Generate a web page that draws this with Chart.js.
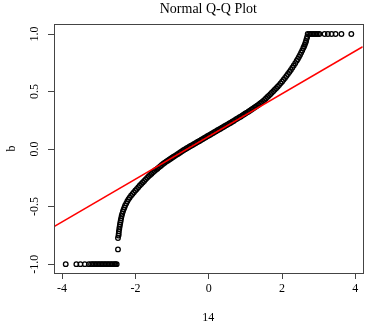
<!DOCTYPE html>
<html lang="en">
<head>
<meta charset="UTF-8">
<title>Normal Q-Q Plot</title>
<script src="https://cdn.jsdelivr.net/npm/chart.js"></script>
<style>
  body { margin: 0; background: #fff; }
  #wrap { width: 368px; height: 325px; }
</style>
</head>
<body>
<div id="wrap"><canvas id="qq"></canvas></div>
<script>
// theoretical quantiles (x) and sorted sample values (y)
const theoretical = [
  -3.90, -3.61, -3.50, -3.38, -3.27,
  -3.21, -3.17, -3.13, -3.09, -3.05, -3.01, -2.97, -2.93, -2.89, -2.85,
  -2.81, -2.77, -2.73, -2.69, -2.65, -2.61, -2.57, -2.54, -2.51,
  -2.475, -2.475,
  -2.46, -2.455, -2.45, -2.44, -2.43, -2.42, -2.41, -2.40, -2.39, -2.375,
  -2.36, -2.34, -2.32, -2.30, -2.28, -2.25, -2.22, -2.19, -2.16, -2.12,
  -2.08, -2.04, -2.00, -1.96, -1.92, -1.88, -1.84, -1.80, -1.76, -1.72,
  -1.68, -1.64, -1.60, -1.56, -1.52, -1.48, -1.44, -1.40, -1.36, -1.32,
  -1.28, -1.24,
  -1.20, -1.16, -1.12, -1.08, -1.04, -1.00, -0.96, -0.92, -0.88, -0.84,
  -0.80, -0.76, -0.72, -0.68, -0.64, -0.60, -0.56, -0.52, -0.48, -0.44,
  -0.40, -0.36, -0.32, -0.28, -0.24, -0.20, -0.16, -0.12, -0.08, -0.04,
  0.00, 0.04, 0.08, 0.12, 0.16, 0.20, 0.24, 0.28, 0.32, 0.36,
  0.40, 0.44, 0.48, 0.52, 0.56, 0.60, 0.64, 0.68, 0.72, 0.76,
  0.80, 0.84, 0.88, 0.92, 0.96, 1.00, 1.04, 1.08, 1.12, 1.16, 1.20,
  1.24, 1.28, 1.32, 1.36, 1.40, 1.44, 1.48, 1.52, 1.56, 1.60,
  1.64, 1.68, 1.72, 1.76, 1.80, 1.84, 1.88, 1.92, 1.96, 2.00,
  2.04, 2.08, 2.12, 2.16, 2.20, 2.24, 2.28, 2.32, 2.36, 2.40,
  2.43, 2.46, 2.49, 2.52, 2.55, 2.58, 2.60, 2.62, 2.64, 2.655, 2.67, 2.685,
  2.70, 2.74, 2.78, 2.82, 2.86, 2.90, 2.94, 2.98, 3.02,
  3.16, 3.25, 3.35, 3.46, 3.62, 3.89
];
const sample = [
  -1, -1, -1, -1, -1,
  -1, -1, -1, -1, -1, -1, -1, -1, -1, -1,
  -1, -1, -1, -1, -1, -1, -1, -1, -1,
  -0.872, -0.773,
  -0.752, -0.735, -0.715, -0.695, -0.675, -0.656, -0.638, -0.620, -0.602, -0.582,
  -0.563, -0.543, -0.524, -0.507, -0.490, -0.472, -0.454, -0.437, -0.422, -0.406,
  -0.390, -0.375, -0.360, -0.346, -0.331, -0.317, -0.304, -0.290, -0.277, -0.263,
  -0.250, -0.237, -0.225, -0.214, -0.202, -0.191, -0.180, -0.170, -0.159, -0.149,
  -0.139, -0.128,
  -0.118, -0.109, -0.101, -0.092, -0.084, -0.076, -0.067, -0.059, -0.050, -0.042,
  -0.034, -0.025, -0.017, -0.008, -0.001, 0.007, 0.014, 0.022, 0.029, 0.036,
  0.044, 0.051, 0.059, 0.066, 0.073, 0.081, 0.088, 0.096, 0.103, 0.111,
  0.118, 0.125, 0.133, 0.140, 0.148, 0.155, 0.163, 0.170, 0.177, 0.185,
  0.192, 0.200, 0.207, 0.215, 0.222, 0.229, 0.238, 0.245, 0.254, 0.261,
  0.269, 0.277, 0.284, 0.293, 0.300, 0.309, 0.317, 0.325, 0.334, 0.342, 0.351,
  0.359, 0.368, 0.377, 0.386, 0.396, 0.406, 0.417, 0.428, 0.440, 0.452,
  0.464, 0.477, 0.489, 0.502, 0.515, 0.528, 0.542, 0.556, 0.571, 0.586,
  0.602, 0.618, 0.635, 0.652, 0.670, 0.688, 0.707, 0.726, 0.746, 0.767,
  0.783, 0.800, 0.818, 0.837, 0.857, 0.878, 0.892, 0.907, 0.924, 0.940, 0.958, 0.975,
  1, 1, 1, 1, 1, 1, 1, 1, 1,
  1, 1, 1, 1, 1, 1
];

// qqline through the quartiles
const lineIntercept = 0.110;
const lineSlope = 0.1856;

const xRange = [-4.22, 4.20];
const yRange = [-1.077, 1.087];
const xTicks = [-4, -2, 0, 2, 4];
const yTicks = [-1, -0.5, 0, 0.5, 1];

Chart.defaults.font.family = "'Liberation Serif', 'Times New Roman', serif";
Chart.defaults.color = '#000';

// R draws a full box round the plot region
const boxPlugin = {
    id: 'plotBox',
    afterDraw(chart) {
        const a = chart.chartArea;
        const ctx = chart.ctx;
        ctx.save();
        ctx.strokeStyle = '#444';
        ctx.lineWidth = 1;
        ctx.strokeRect(Math.round(a.left) + 0.5, Math.round(a.top) + 0.5,
            Math.round(a.right - a.left), Math.round(a.bottom - a.top));
        ctx.restore();
    }
};

const points = theoretical.map((x, i) => ({ x: x, y: sample[i] }));
const linePts = xRange.map(x => ({ x: x, y: lineIntercept + lineSlope * x }));

new Chart(document.getElementById('qq'), {
    type: 'scatter',
    data: {
        datasets: [{
            data: linePts,
            showLine: true,
            borderColor: '#ff0000',
            borderWidth: 1.5,
            pointRadius: 0,
            fill: false
        }, {
            data: points,
            pointStyle: 'circle',
            pointRadius: 2.3,
            pointBorderWidth: 1.3,
            pointBorderColor: '#000',
            pointBackgroundColor: 'rgba(0,0,0,0)'
        }]
    },
    options: {
        responsive: true,
        maintainAspectRatio: false,
        animation: false,
        layout: { padding: { left: 0, right: 5, top: 0, bottom: 0 } },
        plugins: {
            legend: { display: false },
            tooltip: { enabled: false },
            title: {
                display: true,
                text: 'Normal Q-Q Plot',
                fullSize: false,
                color: '#000',
                font: { size: 14, weight: 'normal' },
                padding: { top: 0.6, bottom: 6.6 }
            }
        },
        scales: {
            x: {
                type: 'linear',
                min: xRange[0],
                max: xRange[1],
                afterBuildTicks: s => { s.ticks = xTicks.map(v => ({ value: v })); },
                afterFit: s => { s.height = 52; },
                border: { display: false },
                grid: { drawOnChartArea: false, drawTicks: true, tickLength: 6, color: '#444' },
                ticks: {
                    font: { size: 12 }, color: '#000', padding: 3,
                    maxRotation: 0, autoSkip: false,
                    callback: v => String(v)
                },
                title: { display: true, text: '14', color: '#000', font: { size: 12 }, padding: { top: 0, bottom: 0 } }
            },
            y: {
                type: 'linear',
                min: yRange[0],
                max: yRange[1],
                afterBuildTicks: s => { s.ticks = yTicks.map(v => ({ value: v })); },
                afterFit: s => { s.width = 54; },
                border: { display: false },
                grid: { drawOnChartArea: false, drawTicks: true, tickLength: 6, color: '#444' },
                ticks: {
                    font: { size: 12 }, color: '#000', padding: 4,
                    minRotation: 90, maxRotation: 90, crossAlign: 'center', autoSkip: false,
                    callback: v => v.toFixed(1)
                },
                title: { display: true, text: 'b', color: '#000', font: { size: 12 }, padding: { top: 5, bottom: 0 } }
            }
        }
    },
    plugins: [boxPlugin]
});
</script>
</body>
</html>
